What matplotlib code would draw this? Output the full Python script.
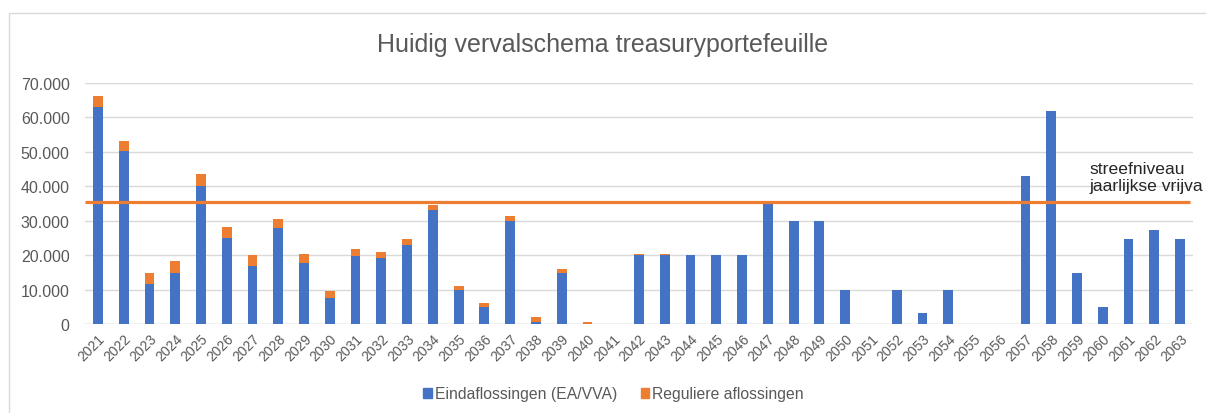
import matplotlib
matplotlib.use("Agg")
import matplotlib.pyplot as plt
from matplotlib.patches import Rectangle, Patch
from matplotlib.ticker import FuncFormatter, MultipleLocator
import numpy as np

plt.rcParams['font.family'] = ['Liberation Sans', 'DejaVu Sans']

years = [str(y) for y in range(2021, 2064)]
eindaflossingen = [62900, 50200, 11600, 14700, 40200, 24900, 16900, 27900, 17800, 7600,
                   19800, 19100, 23000, 33100, 9900, 5000, 29900, 600, 14700, 100,
                   0, 19900, 19900, 20000, 20000, 20000, 35000, 30000, 30000, 10000,
                   0, 10000, 3200, 10000, 0, 0, 43100, 62000, 14700, 5000,
                   24700, 27400, 24700]
reguliere = [3400, 3000, 3100, 3500, 3400, 3400, 3000, 2600, 2500, 1900,
             1900, 1700, 1800, 1400, 1200, 1000, 1500, 1400, 1300, 600,
             0, 500, 500, 0, 0, 0, 0, 0, 0, 0,
             0, 0, 0, 0, 0, 0, 0, 0, 0, 0,
             0, 0, 0]
streefniveau = 35300
series_names = ["Eindaflossingen (EA/VVA)", "Reguliere aflossingen"]
title = "Huidig vervalschema treasuryportefeuille"
annotation = "streefniveau\njaarlijkse vrijva"

BLUE = "#4472C4"
ORANGE = "#ED7D31"
GRID = "#D9D9D9"
TXT = "#595959"

W, H = 1206, 414
fig = plt.figure(figsize=(W / 100, H / 100), dpi=100)

# chart area border
fig.patches.append(Rectangle((9 / W, -0.1), 1.2, 1 - 14 / H + 0.1, transform=fig.transFigure,
                             fill=False, edgecolor=GRID, linewidth=1.0))

left, right = 85 / W, 1193 / W
bottom, top = 1 - 325 / H, 1 - 84 / H
ax = fig.add_axes([left, bottom, right - left, top - bottom])

x = np.arange(len(years))
bw = 0.38
ax.bar(x, eindaflossingen, width=bw, color=BLUE, zorder=2)
ax.bar(x, reguliere, width=bw, bottom=eindaflossingen, color=ORANGE, zorder=2)

ax.set_xlim(-0.5, len(years) - 0.5)
ax.set_ylim(0, 70000)
ax.yaxis.set_major_locator(MultipleLocator(10000))
ax.yaxis.set_major_formatter(FuncFormatter(lambda v, p: f"{int(v):,}".replace(",", ".")))
ax.grid(axis='y', color=GRID, linewidth=1.0, zorder=0)
for s in ax.spines.values():
    s.set_visible(False)
ax.axhline(0, color=GRID, linewidth=1.0, zorder=1)

ax.set_xticks(x)
ax.set_xticklabels(years, rotation=45, ha='right', rotation_mode='anchor', fontsize=10, color=TXT)
ax.tick_params(axis='x', length=0, pad=5)
ax.tick_params(axis='y', length=0, pad=11, labelsize=11.5, labelcolor=TXT)

# target line
ax.plot([-0.5, len(years) - 0.5 - 0.1], [streefniveau, streefniveau], color=ORANGE,
        linewidth=2.3, zorder=3, clip_on=False, solid_capstyle='butt')
fig.text(1089 / W, 1 - 178 / H, annotation, fontsize=12.6, color="#262626",
         ha='left', va='center', linespacing=1.12)

fig.text(0.5, 1 - 45 / H, title, fontsize=18, color=TXT, ha='center', va='center')

handles = [Patch(color=BLUE, label=series_names[0]), Patch(color=ORANGE, label=series_names[1])]
fig.legend(handles=handles, loc='center', bbox_to_anchor=(613.5 / W, 1 - 395 / H), ncol=2,
           frameon=False, fontsize=11.3, labelcolor=TXT, handlelength=0.55, handleheight=0.55,
           handletextpad=0.2, columnspacing=1.5)

fig.savefig("out.png", dpi=100)
